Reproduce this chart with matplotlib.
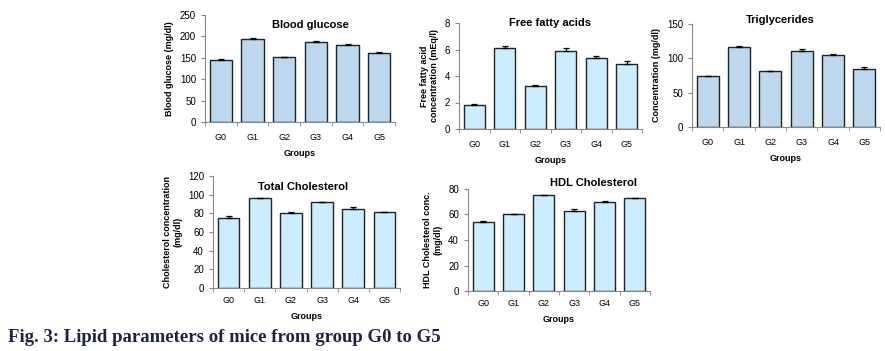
import matplotlib.pyplot as plt
import numpy as np

groups = ['G0', 'G1', 'G2', 'G3', 'G4', 'G5']

glucose = [144, 194, 151, 188, 181, 161]
glucose_err = [3, 2, 2, 1, 2, 2]

ffa = [1.8, 6.15, 3.25, 5.9, 5.35, 4.9]
ffa_err = [0.05, 0.08, 0.1, 0.18, 0.18, 0.22]

tg = [74, 116, 81, 110, 105, 85]
tg_err = [1, 2, 1, 3, 1, 2]

tc = [75, 96, 80.5, 92, 85, 81]
tc_err = [2, 0.5, 1, 0.5, 1.5, 0.3]

hdl = [54, 60, 75, 63, 70, 73]
hdl_err = [1, 0.5, 0.5, 1, 0.5, 0.3]

W, H = 885, 351
fig = plt.figure(figsize=(W / 100, H / 100), dpi=100)
plt.rcParams['font.family'] = ['Liberation Sans', 'DejaVu Sans']


def panel(px, vals, errs, ylim, yticks, title, title_xy, ylabel, color, xpad=8):
    l, r, t, b = px
    ax = fig.add_axes([l / W, 1 - b / H, (r - l) / W, (b - t) / H])
    x = np.arange(len(groups))
    # Excel style: only the upper half of the error bar
    up = [np.zeros(len(errs)), errs]
    ax.bar(x, vals, 0.7, color=color, edgecolor='#222222', linewidth=1.0,
           yerr=up, capsize=2.5, error_kw={'elinewidth': 0.9, 'capthick': 0.9})
    ax.set_xlim(-0.5, 5.5)
    ax.set_ylim(*ylim)
    ax.set_yticks(yticks)
    ax.set_xticks(x)
    ax.set_xticklabels(groups)
    ax.set_xticks(np.arange(-0.5, 6, 1), minor=True)
    ax.tick_params(axis='x', which='major', length=0, labelsize=6.5, pad=xpad)
    ax.tick_params(axis='x', which='minor', length=3, color='#888888')
    ax.tick_params(axis='y', length=3, labelsize=7, color='#888888')
    for s in ['top', 'right']:
        ax.spines[s].set_visible(False)
    for s in ['left', 'bottom']:
        ax.spines[s].set_color('#888888')
        ax.spines[s].set_linewidth(0.8)
    ax.set_xlabel('Groups', fontsize=6.5, fontweight='bold', labelpad=5)
    ax.set_ylabel(ylabel, fontsize=6.5, fontweight='bold', labelpad=4)
    fig.text(title_xy[0] / W, 1 - title_xy[1] / H, title, fontsize=8,
             fontweight='bold', ha='center', va='center')
    return ax


blue = '#BDD7EE'
cyan = '#CCECFF'

panel((205, 395, 15, 122), glucose, glucose_err, (0, 250), range(0, 251, 50),
      'Blood glucose', (310, 25), 'Blood glucose (mg/dl)', blue)
panel((459, 642, 23, 129), ffa, ffa_err, (0, 8), range(0, 9, 2),
      'Free fatty acids', (550, 23), 'Free fatty acid\nconcentration (mEq/l)', cyan)
panel((692, 880, 24, 127), tg, tg_err, (0, 150), range(0, 151, 50),
      'Triglycerides', (780, 20), 'Concentration (mg/dl)', blue)
panel((213, 400, 176, 288), tc, tc_err, (0, 120), range(0, 121, 20),
      'Total Cholesterol', (303, 187), 'Cholesterol concentration\n(mg/dl)', cyan, xpad=6)
panel((468, 650, 189, 291), hdl, hdl_err, (0, 80), range(0, 81, 20),
      'HDL Cholesterol', (593, 183), 'HDL Cholesterol conc.\n(mg/dl)', cyan, xpad=6)

fig.text(8 / W, 1 - 338 / H, 'Fig. 3: Lipid parameters of mice from group G0 to G5',
         family='Liberation Serif', fontweight='bold', fontsize=13.5,
         color='#1F2440', ha='left', va='center')

fig.savefig('out.png', dpi=100)
